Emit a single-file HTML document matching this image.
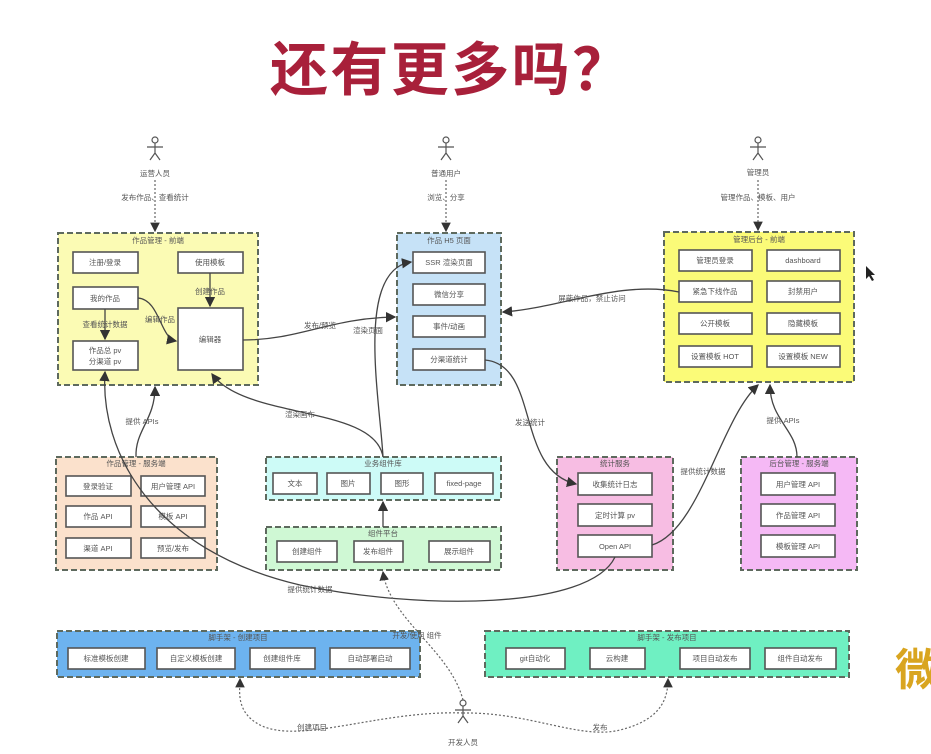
<!DOCTYPE html>
<html><head><meta charset="utf-8"><style>
html,body{margin:0;padding:0;background:#fff;width:931px;height:754px;overflow:hidden}
svg{display:block}
text{font-family:"Liberation Sans","Noto Sans CJK SC",sans-serif;fill:#555;font-size:8px}
.t{font-size:7.5px;text-anchor:middle}
.g{fill:none;stroke:#5e6a5e;stroke-width:2;stroke-dasharray:6 3}
.b{fill:#fff;stroke:#555;stroke-width:1.6}
.c{fill:none;stroke:#444;stroke-width:1.3}
.d{fill:none;stroke:#666;stroke-width:1.2;stroke-dasharray:2 2}
</style></head><body>
<svg width="931" height="754" viewBox="0 0 931 754">
<defs><marker id="a" markerWidth="8" markerHeight="8" refX="7" refY="4" orient="auto"><path d="M0,0 L8,4 L0,8z" fill="#333"/></marker></defs>
<text x="270" y="90" textLength="360" lengthAdjust="spacing" style="font-family:'Noto Sans CJK SC',sans-serif;font-size:58px;font-weight:bold;fill:#a8203a">还有更多吗？</text>
<text x="895" y="685" style="font-size:44px;font-weight:bold;fill:#d9a520">微</text>
<path d="M866,266 l0,13 l3,-3 l3,5 l2,-1 l-3,-5 l4,0z" fill="#222"/>

<!-- actors -->
<g stroke="#555" stroke-width="1.2" fill="none">
<circle cx="155" cy="140" r="3"/><path d="M155,143v10M147,147h16M155,153l-5,7M155,153l5,7"/>
<circle cx="446" cy="140" r="3"/><path d="M446,143v10M438,147h16M446,153l-5,7M446,153l5,7"/>
<circle cx="758" cy="140" r="3"/><path d="M758,143v10M750,147h16M758,153l-5,7M758,153l5,7"/>
<circle cx="463" cy="703" r="3"/><path d="M463,706v10M455,710h16M463,716l-5,7M463,716l5,7"/>
</g>
<text class="t" x="155" y="176">运营人员</text><text class="t" x="155" y="200">发布作品、查看统计</text>
<text class="t" x="446" y="176">普通用户</text><text class="t" x="446" y="200">浏览、分享</text>
<text class="t" x="758" y="175">管理员</text><text class="t" x="758" y="200">管理作品、模板、用户</text>
<text class="t" x="463" y="745">开发人员</text>
<path class="d" d="M155,180V231" marker-end="url(#a)"/>
<path class="d" d="M446,180V231" marker-end="url(#a)"/>
<path class="d" d="M758,180V230" marker-end="url(#a)"/>

<!-- groups -->
<rect x="58" y="233" width="200" height="152" fill="#fbfbb4"/><rect class="g" x="58" y="233" width="200" height="152"/>
<text class="t" x="158" y="243">作品管理 - 前端</text>
<rect x="397" y="233" width="104" height="152" fill="#c6e2f7"/><rect class="g" x="397" y="233" width="104" height="152"/>
<text class="t" x="449" y="243">作品 H5 页面</text>
<rect x="664" y="232" width="190" height="150" fill="#fbfb78"/><rect class="g" x="664" y="232" width="190" height="150"/>
<text class="t" x="759" y="242">管理后台 - 前端</text>
<rect x="56" y="457" width="161" height="113" fill="#fbe1cc"/><rect class="g" x="56" y="457" width="161" height="113"/>
<text class="t" x="136" y="466">作品管理 - 服务端</text>
<rect x="266" y="457" width="235" height="43" fill="#cdfbf7"/><rect class="g" x="266" y="457" width="235" height="43"/>
<text class="t" x="383" y="466">业务组件库</text>
<rect x="266" y="527" width="235" height="43" fill="#cff8d4"/><rect class="g" x="266" y="527" width="235" height="43"/>
<text class="t" x="383" y="536">组件平台</text>
<rect x="557" y="457" width="116" height="113" fill="#f7bde3"/><rect class="g" x="557" y="457" width="116" height="113"/>
<text class="t" x="615" y="466">统计服务</text>
<rect x="741" y="457" width="116" height="113" fill="#f5b9f5"/><rect class="g" x="741" y="457" width="116" height="113"/>
<text class="t" x="799" y="466">后台管理 - 服务端</text>
<rect x="57" y="631" width="363" height="46" fill="#6db3ef"/><rect class="g" x="57" y="631" width="363" height="46"/>
<text class="t" x="238" y="640">脚手架 - 创建项目</text>
<rect x="485" y="631" width="364" height="46" fill="#6ff0c2"/><rect class="g" x="485" y="631" width="364" height="46"/>
<text class="t" x="667" y="640">脚手架 - 发布项目</text>

<!-- inner boxes -->
<g>
<rect class="b" x="73" y="252" width="65" height="21"/><text class="t" x="105" y="265">注册/登录</text>
<rect class="b" x="178" y="252" width="65" height="21"/><text class="t" x="210" y="265">使用模板</text>
<rect class="b" x="73" y="287" width="65" height="22"/><text class="t" x="105" y="301">我的作品</text>
<rect class="b" x="178" y="308" width="65" height="62"/><text class="t" x="210" y="342">编辑器</text>
<rect class="b" x="73" y="341" width="65" height="29"/><text class="t" x="105" y="353">作品总 pv</text><text class="t" x="105" y="364">分渠道 pv</text>

<rect class="b" x="413" y="252" width="72" height="21"/><text class="t" x="449" y="265">SSR 渲染页面</text>
<rect class="b" x="413" y="284" width="72" height="21"/><text class="t" x="449" y="297">微信分享</text>
<rect class="b" x="413" y="316" width="72" height="21"/><text class="t" x="449" y="329">事件/动画</text>
<rect class="b" x="413" y="349" width="72" height="21"/><text class="t" x="449" y="362">分渠道统计</text>

<rect class="b" x="679" y="250" width="73" height="21"/><text class="t" x="715" y="263">管理员登录</text>
<rect class="b" x="767" y="250" width="73" height="21"/><text class="t" x="803" y="263">dashboard</text>
<rect class="b" x="679" y="281" width="73" height="21"/><text class="t" x="715" y="294">紧急下线作品</text>
<rect class="b" x="767" y="281" width="73" height="21"/><text class="t" x="803" y="294">封禁用户</text>
<rect class="b" x="679" y="313" width="73" height="21"/><text class="t" x="715" y="326">公开模板</text>
<rect class="b" x="767" y="313" width="73" height="21"/><text class="t" x="803" y="326">隐藏模板</text>
<rect class="b" x="679" y="346" width="73" height="21"/><text class="t" x="715" y="359">设置模板 HOT</text>
<rect class="b" x="767" y="346" width="73" height="21"/><text class="t" x="803" y="359">设置模板 NEW</text>

<rect class="b" x="66" y="476" width="65" height="20"/><text class="t" x="98" y="489">登录验证</text>
<rect class="b" x="141" y="476" width="64" height="20"/><text class="t" x="173" y="489">用户管理 API</text>
<rect class="b" x="66" y="506" width="65" height="21"/><text class="t" x="98" y="519">作品 API</text>
<rect class="b" x="141" y="506" width="64" height="21"/><text class="t" x="173" y="519">模板 API</text>
<rect class="b" x="66" y="538" width="65" height="20"/><text class="t" x="98" y="551">渠道 API</text>
<rect class="b" x="141" y="538" width="64" height="20"/><text class="t" x="173" y="551">预览/发布</text>

<rect class="b" x="273" y="473" width="44" height="21"/><text class="t" x="295" y="486">文本</text>
<rect class="b" x="327" y="473" width="43" height="21"/><text class="t" x="348" y="486">图片</text>
<rect class="b" x="381" y="473" width="42" height="21"/><text class="t" x="402" y="486">图形</text>
<rect class="b" x="435" y="473" width="58" height="21"/><text class="t" x="464" y="486">fixed-page</text>

<rect class="b" x="277" y="541" width="60" height="21"/><text class="t" x="307" y="554">创建组件</text>
<rect class="b" x="354" y="541" width="49" height="21"/><text class="t" x="378" y="554">发布组件</text>
<rect class="b" x="429" y="541" width="61" height="21"/><text class="t" x="459" y="554">展示组件</text>

<rect class="b" x="578" y="473" width="74" height="22"/><text class="t" x="615" y="487">收集统计日志</text>
<rect class="b" x="578" y="504" width="74" height="22"/><text class="t" x="615" y="518">定时计算 pv</text>
<rect class="b" x="578" y="535" width="74" height="22"/><text class="t" x="615" y="549">Open API</text>

<rect class="b" x="761" y="473" width="74" height="22"/><text class="t" x="798" y="487">用户管理 API</text>
<rect class="b" x="761" y="504" width="74" height="22"/><text class="t" x="798" y="518">作品管理 API</text>
<rect class="b" x="761" y="535" width="74" height="22"/><text class="t" x="798" y="549">模板管理 API</text>

<rect class="b" x="68" y="648" width="77" height="21"/><text class="t" x="106" y="661">标准模板创建</text>
<rect class="b" x="157" y="648" width="78" height="21"/><text class="t" x="196" y="661">自定义模板创建</text>
<rect class="b" x="250" y="648" width="65" height="21"/><text class="t" x="282" y="661">创建组件库</text>
<rect class="b" x="330" y="648" width="80" height="21"/><text class="t" x="370" y="661">自动部署启动</text>

<rect class="b" x="506" y="648" width="59" height="21"/><text class="t" x="535" y="661">git自动化</text>
<rect class="b" x="590" y="648" width="55" height="21"/><text class="t" x="617" y="661">云构建</text>
<rect class="b" x="680" y="648" width="70" height="21"/><text class="t" x="715" y="661">项目自动发布</text>
<rect class="b" x="765" y="648" width="71" height="21"/><text class="t" x="800" y="661">组件自动发布</text>
</g>

<!-- connectors -->
<path class="c" d="M210,273V306" marker-end="url(#a)"/><text class="t" x="210" y="294">创建作品</text>
<path class="c" d="M105,309V339" marker-end="url(#a)"/><text class="t" x="105" y="327">查看统计数据</text>
<path class="c" d="M138,298C160,300 160,338 176,341" marker-end="url(#a)"/><text class="t" x="160" y="322">编辑作品</text>
<path class="c" d="M243,340C300,340 330,318 395,317" marker-end="url(#a)"/><text class="t" x="320" y="328">发布/预览</text>
<path class="c" d="M679,292C620,280 560,308 503,312" marker-end="url(#a)"/><text class="t" x="592" y="301">屏蔽作品，禁止访问</text>
<path class="c" d="M383,457C380,400 355,270 411,262" marker-end="url(#a)"/><text class="t" x="368" y="333">渲染页面</text>
<path class="c" d="M383,457C375,405 245,420 212,374" marker-end="url(#a)"/><text class="t" x="300" y="417">渲染画布</text>
<path class="c" d="M485,360C540,365 515,470 576,484" marker-end="url(#a)"/><text class="t" x="530" y="425">发送统计</text>
<path class="c" d="M652,545C700,530 720,420 758,385" marker-end="url(#a)"/><text class="t" x="703" y="474">提供统计数据</text>
<path class="c" d="M615,557C590,610 420,610 300,585C150,550 100,450 105,372" marker-end="url(#a)"/><text class="t" x="310" y="592">提供统计数据</text>
<path class="c" d="M136,457C135,430 155,420 155,387" marker-end="url(#a)"/><text class="t" x="142" y="424">提供 APIs</text>
<path class="c" d="M797,457C797,430 770,420 770,385" marker-end="url(#a)"/><text class="t" x="783" y="423">提供 APIs</text>
<path class="c" d="M383,527V502" marker-end="url(#a)"/>
<path class="d" d="M463,700C450,650 390,620 383,572" marker-end="url(#a)"/><text class="t" x="417" y="638">开发/使用 组件</text>
<path class="d" d="M463,713C380,710 300,745 260,725C235,712 240,690 240,679" marker-end="url(#a)"/><text class="t" x="312" y="730">创建项目</text>
<path class="d" d="M463,713C530,712 580,740 620,730C660,720 668,700 668,679" marker-end="url(#a)"/><text class="t" x="600" y="730">发布</text>
</svg>
</body></html>
